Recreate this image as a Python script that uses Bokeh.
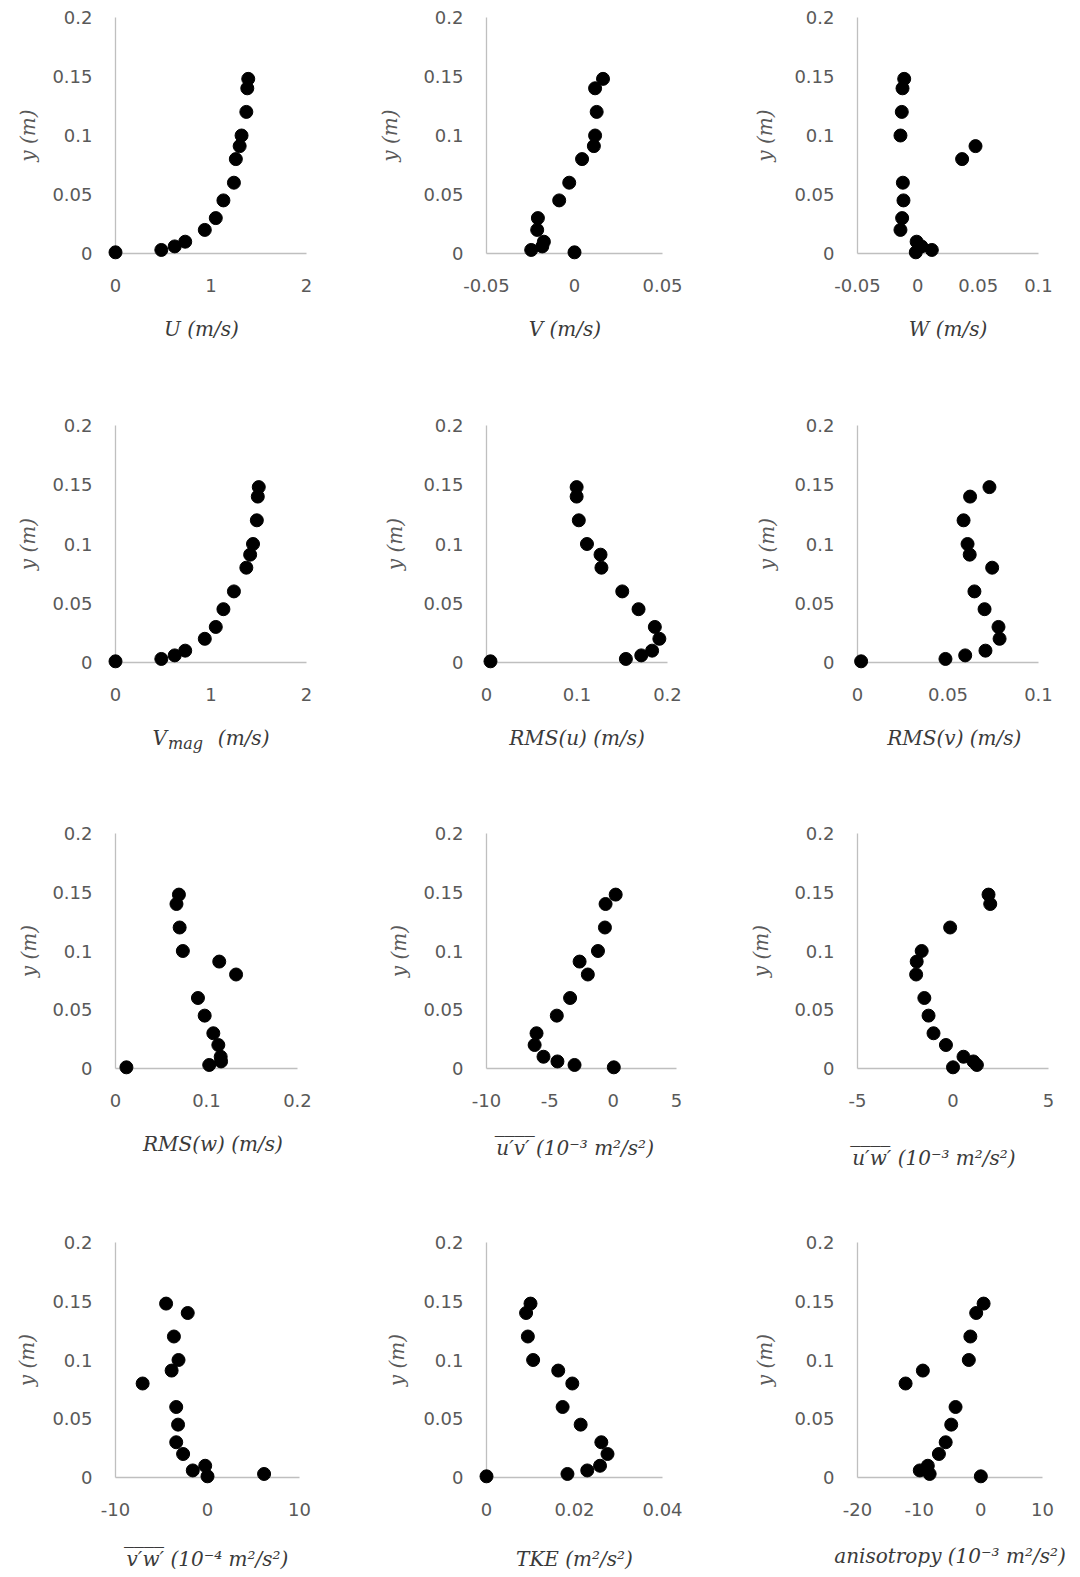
from bokeh.plotting import figure
from bokeh.layouts import row, column
from bokeh.models import Range1d, FixedTicker, LinearAxis
from bokeh.embed import file_html
from bokeh.resources import INLINE

# ---------------- data ----------------
y_m = [0.001, 0.003, 0.006, 0.01, 0.02, 0.03, 0.045, 0.06, 0.08, 0.091, 0.1, 0.12, 0.14, 0.148]

U = [0, 0.48, 0.62, 0.73, 0.935, 1.05, 1.13, 1.24, 1.26, 1.30, 1.32, 1.37, 1.38, 1.39]
V = [0, -0.0246, -0.0183, -0.0174, -0.0212, -0.0208, -0.0087, -0.003, 0.0043, 0.011, 0.0117, 0.0126, 0.0117, 0.0162]
W = [-0.0017, 0.0116, 0.003, -0.001, -0.0144, -0.013, -0.0119, -0.0124, 0.0367, 0.0478, -0.0144, -0.0133, -0.0127, -0.0113]
Vmag = [0, 0.48, 0.62, 0.73, 0.935, 1.05, 1.13, 1.24, 1.37, 1.41, 1.44, 1.48, 1.49, 1.50]
RMSu = [0.0044, 0.154, 0.171, 0.183, 0.191, 0.186, 0.168, 0.15, 0.127, 0.126, 0.111, 0.102, 0.0996, 0.0996]
RMSv = [0.002, 0.0486, 0.0595, 0.0707, 0.0785, 0.0779, 0.0702, 0.0646, 0.0744, 0.062, 0.0608, 0.0586, 0.0622, 0.0729]
RMSw = [0.012, 0.103, 0.116, 0.1156, 0.113, 0.1075, 0.098, 0.0906, 0.1325, 0.114, 0.074, 0.0705, 0.067, 0.0697]
uv = [0.05, -3.05, -4.4, -5.5, -6.2, -6.05, -4.45, -3.4, -2.0, -2.65, -1.2, -0.65, -0.6, 0.2]
uw = [0.0, 1.25, 1.07, 0.55, -0.37, -1.02, -1.28, -1.5, -1.93, -1.9, -1.64, -0.15, 1.95, 1.86]
vw = [0.0, 6.15, -1.6, -0.25, -2.65, -3.4, -3.2, -3.4, -7.05, -3.9, -3.15, -3.65, -2.15, -4.5]
TKE = [0, 0.0184, 0.0229, 0.0258, 0.0275, 0.0261, 0.0214, 0.0173, 0.0195, 0.0163, 0.0106, 0.0094, 0.009, 0.01]
aniso = [0, -8.3, -9.9, -8.6, -6.8, -5.7, -4.8, -4.1, -12.2, -9.4, -1.95, -1.7, -0.75, 0.45]

y_ticks = [0, 0.05, 0.1, 0.15, 0.2]
y_tick_labels = ["0", "0.05", "0.1", "0.15", "0.2"]
y_title = "y (m)"

x_ticks_U = [0, 1, 2];                x_labels_U = ["0", "1", "2"]
x_ticks_V = [-0.05, 0, 0.05];         x_labels_V = ["-0.05", "0", "0.05"]
x_ticks_W = [-0.05, 0, 0.05, 0.1];    x_labels_W = ["-0.05", "0", "0.05", "0.1"]
x_ticks_rmsu = [0, 0.1, 0.2];         x_labels_rmsu = ["0", "0.1", "0.2"]
x_ticks_rmsv = [0, 0.05, 0.1];        x_labels_rmsv = ["0", "0.05", "0.1"]
x_ticks_uv = [-10, -5, 0, 5];         x_labels_uv = ["-10", "-5", "0", "5"]
x_ticks_uw = [-5, 0, 5];              x_labels_uw = ["-5", "0", "5"]
x_ticks_vw = [-10, 0, 10];            x_labels_vw = ["-10", "0", "10"]
x_ticks_tke = [0, 0.02, 0.04];        x_labels_tke = ["0", "0.02", "0.04"]
x_ticks_an = [-20, -10, 0, 10];       x_labels_an = ["-20", "-10", "0", "10"]

NB = "\u00a0"          # non-breaking space used only to nudge centred axis titles
OVER = "\u203e" * 4    # overline bar drawn over the primed correlation symbols
U3 = " (10\u207b\u00b3 m\u00b2/s\u00b2)"
U4 = " (10\u207b\u2074 m\u00b2/s\u00b2)"

# title: main axis title; extra: (text, font px, standoff) for a second, overlaid title line
panels = [
    dict(x=U, ticks=x_ticks_U, labels=x_labels_U, title="U (m/s)" + NB * 3),
    dict(x=V, ticks=x_ticks_V, labels=x_labels_V, title="V (m/s)" + NB * 3),
    dict(x=W, ticks=x_ticks_W, labels=x_labels_W, title="W (m/s)"),
    dict(x=Vmag, ticks=x_ticks_U, labels=x_labels_U, title="V" + NB * 8 + "(m/s)",
         extra=("mag" + NB * 10, 16, -19)),
    dict(x=RMSu, ticks=x_ticks_rmsu, labels=x_labels_rmsu, title="RMS(u) (m/s)"),
    dict(x=RMSv, ticks=x_ticks_rmsv, labels=x_labels_rmsv, title=NB * 2 + "RMS(v) (m/s)"),
    dict(x=RMSw, ticks=x_ticks_rmsu, labels=x_labels_rmsu, title=NB * 2 + "RMS(w) (m/s)"),
    dict(x=uv, ticks=x_ticks_uv, labels=x_labels_uv, title="u\u2032v\u2032" + U3 + NB * 2,
         extra=(OVER + NB * (19 + 2), 20, -30)),
    dict(x=uw, ticks=x_ticks_uw, labels=x_labels_uw, title="u\u2032w\u2032" + U3 + NB * 6,
         extra=(OVER + NB * (20 + 6), 20, -30)),
    dict(x=vw, ticks=x_ticks_vw, labels=x_labels_vw, title="v\u2032w\u2032" + U4,
         extra=(OVER + NB * 20, 20, -30)),
    dict(x=TKE, ticks=x_ticks_tke, labels=x_labels_tke, title="TKE (m\u00b2/s\u00b2)"),
    dict(x=aniso, ticks=x_ticks_an, labels=x_labels_an, title="anisotropy" + U3),
]

# ---------------- layout geometry (page px) ----------------
COL_X = [0, 360, 720]
COL_W = [360, 360, 360]
ROW_Y = [0, 405, 810, 1215]
ROW_H = [405, 405, 405, 362]
# visible axis box per panel: left, right, top, bottom
AXBOX = [
    (115, 306, 17, 253), (486, 662, 17, 253), (857, 1038, 17, 253),
    (115, 306, 425, 662), (486, 667, 425, 662), (857, 1038, 425, 662),
    (115, 297, 833, 1068), (486, 676, 833, 1068), (857, 1048, 833, 1068),
    (115, 299, 1242, 1477), (486, 662, 1242, 1477), (857, 1042, 1242, 1477),
]
TITLE_DY = [75, 75, 75, 75, 75, 75, 75, 79, 89, 81, 81, 78]
YTITLE_DX = [85, 94, 90, 85, 89, 88, 84, 85, 94, 86, 87, 90]
PAD = 10

TICK_FONT = "DejaVu Sans"
TITLE_FONT = "DejaVu Serif"
AXIS_COLOR = "#bfbfbf"
TITLE_COLOR = "#3a3a3a"

def overrides(ticks, labels):
    d = {}
    for t, l in zip(ticks, labels):
        d[t] = l
        d[str(t)] = l
    return d

rows = []
figs_row = []
for i, pdef in enumerate(panels):
    r, c = divmod(i, 3)
    L, R, T, B = AXBOX[i]
    ticks = pdef["ticks"]
    xmin, xmax = ticks[0], ticks[-1]
    ymin, ymax = y_ticks[0], y_ticks[-1]
    sx = (xmax - xmin) / (R - L)
    sy = (ymax - ymin) / (B - T)
    p = figure(
        width=COL_W[c], height=ROW_H[r],
        x_range=Range1d(xmin - PAD * sx, xmax + PAD * sx),
        y_range=Range1d(ymin - PAD * sy, ymax + PAD * sy),
        min_border_left=L - PAD - COL_X[c],
        min_border_right=COL_X[c] + COL_W[c] - R - PAD,
        min_border_top=T - PAD - ROW_Y[r],
        min_border_bottom=ROW_Y[r] + ROW_H[r] - B - PAD,
        output_backend="svg", toolbar_location=None,
    )
    p.outline_line_color = None
    p.background_fill_color = "white"
    p.border_fill_color = "white"
    p.xgrid.grid_line_color = None
    p.ygrid.grid_line_color = None

    for ax in (p.xaxis[0], p.yaxis[0]):
        ax.axis_line_color = None
        ax.major_tick_line_color = None
        ax.minor_tick_line_color = None
        ax.major_tick_out = 0
        ax.major_tick_in = 0
        ax.minor_tick_out = 0
        ax.minor_tick_in = 0
        ax.major_label_text_font = TICK_FONT
        ax.major_label_text_font_size = "18px"
        ax.major_label_text_color = "#595959"
        ax.axis_label_text_font = TITLE_FONT
        ax.axis_label_text_font_style = "italic"
        ax.axis_label_text_font_size = "20px"

    xa = p.xaxis[0]
    xa.major_label_standoff = 15
    xa.ticker = FixedTicker(ticks=ticks)
    xa.major_label_overrides = overrides(ticks, pdef["labels"])
    xa.axis_label_text_color = TITLE_COLOR
    xa.axis_label_standoff = TITLE_DY[i] - 53
    xa.axis_label = pdef["title"]

    if pdef.get("extra"):
        txt, fs, st = pdef["extra"]
        xa2 = LinearAxis(ticker=FixedTicker(ticks=[]), axis_label=txt,
                         axis_line_color=None, major_tick_line_color=None,
                         minor_tick_line_color=None, major_tick_out=0, major_tick_in=0,
                         minor_tick_out=0, minor_tick_in=0, major_label_standoff=0,
                         major_label_text_font_size="0px",
                         axis_label_standoff=st, axis_label_text_font=TITLE_FONT,
                         axis_label_text_font_style="italic",
                         axis_label_text_font_size=f"{fs}px",
                         axis_label_text_color=TITLE_COLOR)
        p.add_layout(xa2, "below")

    ya = p.yaxis[0]
    ya.major_label_standoff = 13
    ya.ticker = FixedTicker(ticks=y_ticks)
    ya.major_label_overrides = overrides(y_ticks, y_tick_labels)
    ya.axis_label = y_title
    ya.axis_label_text_color = "#595959"
    ya.axis_label_standoff = YTITLE_DX[i] - 76

    # visible axis lines (Excel style: y axis at x-min, x axis at y=0)
    p.segment(x0=[xmin], y0=[ymin], x1=[xmin], y1=[ymax], line_color=AXIS_COLOR, line_width=1.3)
    p.segment(x0=[xmin], y0=[0], x1=[xmax], y1=[0], line_color=AXIS_COLOR, line_width=1.3)

    p.scatter(pdef["x"], y_m, size=13, color="black")

    figs_row.append(p)
    if c == 2:
        rows.append(row(*figs_row, spacing=0))
        figs_row = []

layout = column(*rows, spacing=0)
open("out.html", "w").write(file_html(layout, INLINE))
